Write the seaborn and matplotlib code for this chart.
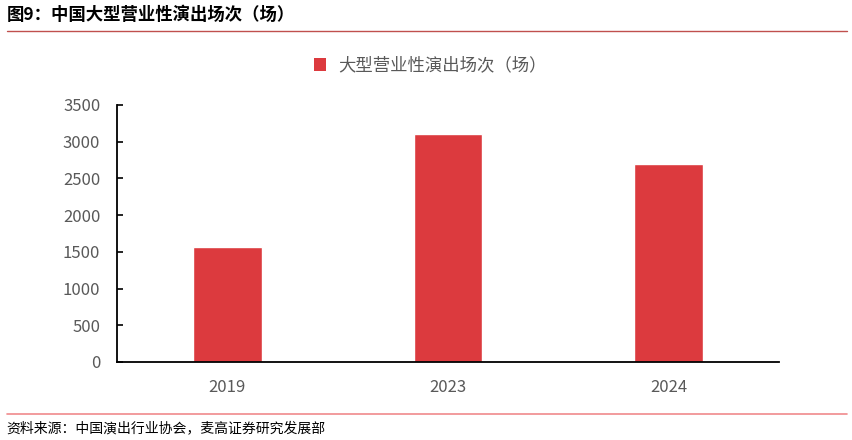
import matplotlib
matplotlib.use("Agg")
import matplotlib.pyplot as plt
import pandas as pd
import seaborn as sns
from matplotlib.lines import Line2D
from matplotlib.patches import Patch

# data
years = ["2019", "2023", "2024"]
shows = [1565, 3100, 2700]
series_name = "大型营业性演出场次（场）"

title_text = "图9：中国大型营业性演出场次（场）"
source_text = "资料来源：中国演出行业协会，麦高证券研究发展部"

BAR_RED = "#DC3A3E"
TICK_GRAY = "#595959"

sns.set_theme(style="white")
plt.rcParams["font.family"] = ["Noto Sans CJK SC", "DejaVu Sans"]

df = pd.DataFrame({"year": years, "shows": shows})

fig = plt.figure(figsize=(8.52, 4.4), dpi=100)
ax = fig.add_axes([0.1373, 0.1773, 0.777, 0.5841])

sns.barplot(data=df, x="year", y="shows", color=BAR_RED, width=0.31,
            saturation=1, ax=ax)

ax.set_ylim(0, 3500)
ax.set_yticks(range(0, 3501, 500))
ax.set_xlim(-0.5, 2.5)
ax.set_xlabel("")
ax.set_ylabel("")

for side in ["top", "right"]:
    ax.spines[side].set_visible(False)
for side in ["left", "bottom"]:
    ax.spines[side].set_color("black")
    ax.spines[side].set_linewidth(1.3)

ax.tick_params(axis="y", direction="in", length=4, width=1.2, color="black",
               labelsize=12, labelcolor=TICK_GRAY, pad=12, left=True)
ax.tick_params(axis="x", length=0, labelsize=12, labelcolor=TICK_GRAY, pad=12)

# legend at top centre
handle = Patch(facecolor=BAR_RED, edgecolor="none")
fig.legend([handle], [series_name], loc="center", bbox_to_anchor=(0.505, 0.851),
           frameon=False, handlelength=0.7, handleheight=0.7, handletextpad=0.7,
           prop={"size": 12.5}, labelcolor=TICK_GRAY)

# header and footer
fig.text(0.008, 0.966, title_text, fontsize=12.5, fontweight="bold",
         ha="left", va="center", color="black")
fig.add_artist(Line2D([0.008, 0.994], [0.929, 0.929], color="#C0504D",
                      linewidth=1.0, transform=fig.transFigure))
fig.add_artist(Line2D([0.008, 0.994], [0.059, 0.059], color="#F08A8C",
                      linewidth=1.2, transform=fig.transFigure))
fig.text(0.008, 0.027, source_text, fontsize=10, ha="left", va="center",
         color="black")

fig.savefig("out.png", dpi=100)
